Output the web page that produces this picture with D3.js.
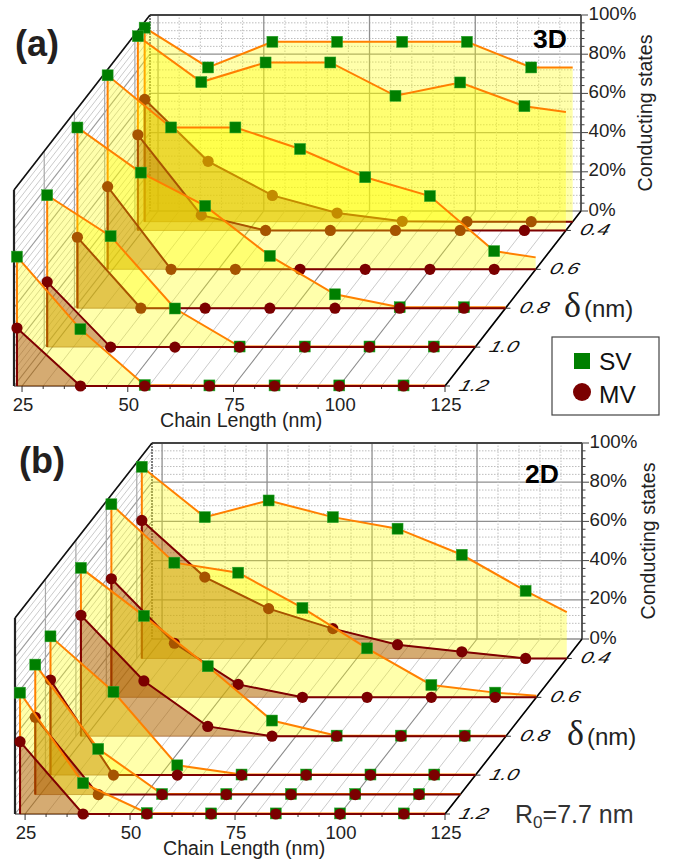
<!DOCTYPE html>
<html><head><meta charset="utf-8">
<style>html,body{margin:0;padding:0;background:#fff}svg{display:block}text{font-family:"Liberation Sans",Arial,sans-serif}</style>
<script src="https://cdn.jsdelivr.net/npm/d3@7/dist/d3.min.js"></script>
</head><body><div id="c"></div>
<script>
// chain length (nm) of the 8 samples in each series
const chainLengths = [23.8, 38.8, 54, 69.3, 84.7, 100, 115.2, 125];
const xTicks = [25, 50, 75, 100, 125];
const yTicks = [0, 20, 40, 60, 80, 100];
const deltaTicks = [0.4, 0.6, 0.8, 1.0, 1.2];

// panel (a) 3D
const deltasA = [0.355, 0.4, 0.6, 0.8, 1.0, 1.2];
const svA035 = [99, 78.7, 91.8, 91.8, 91.8, 91.8, 78.7, 78.7];
const svA040 = [99.1, 75.7, 85.7, 85.7, 68.7, 75.5, 63.4, 60.4];
const svA060 = [99, 72.4, 72.4, 61.4, 47, 37.4, 9.3, 6.1];
const svA080 = [92.2, 69.2, 52.2, 26.7, 7.1, 0.5, 0.5, 0.5];
const svA100 = [77.5, 56.6, 19.7, 0.3, 0.3, 0.3, 0.3, 0.3];
const svA120 = [66, 29, 0.5, 0.3, 0.3, 0.3, 0.3, 0.3];
const mvA035 = [62.4, 30.8, 13.4, 4.4, 0.2, 0, 0, 0];
const mvA040 = [48.8, 7.8, 0, 0, 0, 0, 0, 0];
const mvA060 = [42.2, 0, 0, 0, 0, 0, 0, 0];
const mvA080 = [36.2, 0, 0, 0, 0, 0, 0, 0];
const mvA100 = [33.3, 0, 0, 0, 0, 0, 0, 0];
const mvA120 = [29.6, 0, 0, 0, 0, 0, 0, 0];

// panel (b) 2D
const deltasB = [0.4, 0.6, 0.8, 1.0, 1.1, 1.2];
const svB040 = [97.8, 72.1, 80.6, 72.1, 66.2, 52.9, 34.5, 23.6];
const svB060 = [98.5, 68.7, 63.6, 45.6, 25, 6.3, 2.4, 0.8];
const svB080 = [85.9, 61.4, 35.7, 8, 0.3, 0.3, 0.3, 0.3];
const svB100 = [70.8, 42.5, 5, 0.3, 0.3, 0.3, 0.3, 0.3];
const svB110 = [66.3, 23.3, 0.3, 0.3, 0.3, 0.3, 0.3, 0.3];
const svB120 = [61.9, 15.7, 0.5, 0.3, 0.3, 0.3, 0.3, 0.3];
const mvB040 = [70.4, 41.5, 25.4, 15.2, 7, 3.4, 0, 0];
const mvB060 = [60.5, 27.6, 6.6, 0, 0, 0, 0, 0];
const mvB080 = [61.7, 28.2, 5, 0, 0, 0, 0, 0];
const mvB100 = [48.5, 0, 0, 0, 0, 0, 0, 0];
const mvB110 = [39.4, 0, 0, 0, 0, 0, 0, 0];
const mvB120 = [36.9, 0, 0, 0, 0, 0, 0, 0];

const svg = d3.select("#c").append("svg").attr("width", 683).attr("height", 865);

function panel(o) {
  const g = svg.append("g");
  const x = d3.scaleLinear().domain([o.xMin, 125]).range([o.frontLeft, o.frontRight]);
  const depth = d3.scaleLinear().domain([0.3, 1.2]).range([0, 1]);
  const rowY = d => o.backBottom + depth(d) * (o.frontY - o.backBottom);
  const shift = d => (1 - depth(d)) * (o.backLeft - o.frontLeft);
  const h = d3.scaleLinear().domain([0, 100]).range([0, o.backBottom - o.backTop]);
  const P = (v, d, p) => [x(v) + shift(d), rowY(d) - h(p)];
  const line = (a, b, c, w, dash) => g.append("line")
    .attr("x1", a[0]).attr("y1", a[1]).attr("x2", b[0]).attr("y2", b[1])
    .attr("stroke", c).attr("stroke-width", w).attr("stroke-dasharray", dash || null);
  const dFront = 1.2, dBack = 0.3;

  // grids
  d3.range(0, 101, 4).forEach(p => {
    const major = p % 20 === 0;
    line(P(o.xMin, dBack, p), P(125, dBack, p), major ? "#8f8f8f" : "#bdbdbd", major ? 1.3 : 1, major ? null : "1.5 1.5");
    line(P(o.xMin, dBack, p), P(o.xMin, dFront, p), major ? "#9a9a9a" : "#c4c4c4", major ? 1.1 : 0.9);
  });
  d3.range(25, 126, 5).forEach(v => {
    const major = v % 25 === 0;
    line(P(v, dBack, 0), P(v, dBack, 100), major ? "#8f8f8f" : "#c0c0c0", major ? 1.3 : 1, major ? null : "1.5 1.5");
    line(P(v, dBack, 0), P(v, dFront, 0), major ? "#8a8a8a" : "#c4c4c4", major ? 1.1 : 0.9);
    line(P(v, dFront, 0), [x(v), o.frontY + (major ? 6 : 3)], "#333", 1);
  });
  deltaTicks.forEach(d => {
    line(P(o.xMin, d, 0), P(o.xMin, d, 100), "#a8a8a8", 1.2);
  });

  // frames
  line(P(o.xMin, dBack, 100), P(125, dBack, 100), "#444", 1.8);
  line(P(125, dBack, 100), P(125, dBack, 0), "#444", 1.6);
  line(P(o.xMin, dBack, 100), P(o.xMin, dBack, 0), "#555", 1.5, "2 1");
  line(P(o.xMin, dBack, 100), P(o.xMin, dFront, 100), "#111", 1.6);
  line(P(o.xMin, dFront, 100), P(o.xMin, dFront, 0), "#222", 2.2);
  line(P(o.xMin, dFront, 0), P(125, dFront, 0), "#222", 1.2);
  line(P(125, dBack, 0), P(125, dFront, 0), "#000", 1.6);
  d3.range(0, 101, 4).forEach(p => {
    const a = P(125, dBack, p);
    line(a, [a[0] + (p % 20 === 0 ? 7 : 3.5), a[1]], "#444", 1);
  });

  // rows, back to front
  o.deltas.forEach((d, i) => {
    const area = vals => {
      const pts = vals.map((v, j) => P(chainLengths[j], d, v));
      return { pts, fill: [P(chainLengths[0], d, 0), ...pts, P(125, d, 0)] };
    };
    const sv = area(o.sv[i]), mv = area(o.mv[i]);
    const pathFn = d3.line();
    g.append("path").attr("d", pathFn(sv.fill) + "Z").attr("fill", "rgba(255,255,0,0.33)");
    g.append("path").attr("d", pathFn(sv.fill.slice(0, -1)))
      .attr("fill", "none").attr("stroke", "#ff8000").attr("stroke-width", 2);
    g.selectAll(null).data(sv.pts.slice(0, -1)).join("rect")
      .attr("x", p => p[0] - 5.5).attr("y", p => p[1] - 5.5).attr("width", 11).attr("height", 11)
      .attr("fill", "#007f00").attr("stroke", "#2ea52e").attr("stroke-width", 0.5);
    g.append("path").attr("d", pathFn(mv.fill) + "Z")
      .attr("fill", "rgba(128,0,0,0.33)").attr("stroke", "rgba(128,50,0,0.5)").attr("stroke-width", 1);
    g.append("path").attr("d", pathFn(mv.fill.slice(0, -1)))
      .attr("fill", "none").attr("stroke", "#7f0000").attr("stroke-width", 2);
    g.selectAll(null).data(mv.pts.slice(0, -1)).join("circle")
      .attr("cx", p => p[0]).attr("cy", p => p[1]).attr("r", 5.6).attr("fill", "#7b0000");
  });

  // tick labels
  xTicks.forEach(v => g.append("text").attr("x", x(v) + 1).attr("y", o.frontY + 24.5)
    .attr("text-anchor", "middle").attr("font-size", 18.5).attr("fill", "#222").text(v));
  yTicks.forEach(p => {
    const a = P(125, dBack, p);
    g.append("text").attr("x", a[0] + 7.5).attr("y", a[1] + 4.5).attr("font-size", 18.7).attr("fill", "#222").text(p + "%");
  });
  deltaTicks.forEach(d => {
    const a = P(125, d, 0);
    line(a, [a[0] + 5, a[1]], "#333", 1);
    g.append("text").attr("font-size", 16).attr("font-style", "italic").attr("fill", "#111")
      .attr("transform", `translate(${a[0] + 13},${a[1] + 5}) skewX(-18) scale(1.3,1)`).text(d.toFixed(1));
  });

  // titles
  g.append("text").attr("x", o.chainX).attr("y", o.frontY + 41).attr("font-size", 19.6).attr("fill", "#222").text("Chain Length (nm)");
  g.append("text").attr("transform", `translate(${o.condX},${(o.backTop + o.backBottom) / 2}) rotate(-90)`)
    .attr("text-anchor", "middle").attr("font-size", 19.6).attr("fill", "#222").text("Conducting states");
  g.append("text").attr("x", o.deltaX).attr("y", o.deltaY).attr("font-size", 36)
    .attr("style", 'font-family:"Liberation Serif",serif').attr("fill", "#222").text("δ");
  g.append("text").attr("x", o.deltaX + 20).attr("y", o.deltaY).attr("font-size", 24).attr("fill", "#222").text("(nm)");
  g.append("text").attr("x", o.tagX).attr("y", o.tagY).attr("font-size", 36).attr("font-weight", "bold").attr("fill", "#231f20").text(o.tag);
  g.append("text").attr("x", o.dimX).attr("y", o.dimY).attr("text-anchor", "end").attr("font-size", 26.5).attr("font-weight", "bold").attr("fill", "#000").text(o.dim);
}

panel({ deltas: deltasA, sv: [svA035, svA040, svA060, svA080, svA100, svA120], mv: [mvA035, mvA040, mvA060, mvA080, mvA100, mvA120],
  xMin: 23.1, frontLeft: 14, frontRight: 445, frontY: 386, backLeft: 150, backTop: 15, backBottom: 211,
  chainX: 160, condX: 652, deltaX: 564, deltaY: 317, tag: "(a)", tagX: 15, tagY: 56, dim: "3D", dimX: 567, dimY: 48 });
panel({ deltas: deltasB, sv: [svB040, svB060, svB080, svB100, svB110, svB120], mv: [mvB040, mvB060, mvB080, mvB100, mvB110, mvB120],
  xMin: 22.6, frontLeft: 15, frontRight: 445, frontY: 814, backLeft: 152, backTop: 443, backBottom: 639,
  chainX: 163, condX: 655, deltaX: 567, deltaY: 745, tag: "(b)", tagX: 19, tagY: 473, dim: "2D", dimX: 559, dimY: 483 });

// legend
const lg = svg.append("g");
lg.append("rect").attr("x", 552).attr("y", 337).attr("width", 107).attr("height", 78).attr("fill", "#fff").attr("stroke", "#444").attr("stroke-width", 1.2);
lg.append("rect").attr("x", 574).attr("y", 353).attr("width", 16).attr("height", 16).attr("fill", "#007f00");
lg.append("circle").attr("cx", 582).attr("cy", 392).attr("r", 9).attr("fill", "#7b0000");
lg.append("text").attr("x", 599).attr("y", 370).attr("font-size", 24.5).attr("fill", "#111").text("SV");
lg.append("text").attr("x", 599).attr("y", 402.5).attr("font-size", 24.5).attr("fill", "#111").text("MV");

// R0 note
const r = svg.append("text").attr("x", 515).attr("y", 823).attr("font-size", 25).attr("fill", "#333");
r.append("tspan").text("R");
r.append("tspan").attr("dy", 5).attr("font-size", 17).text("0");
r.append("tspan").attr("dy", -5).text("=7.7 nm");
</script></body></html>
